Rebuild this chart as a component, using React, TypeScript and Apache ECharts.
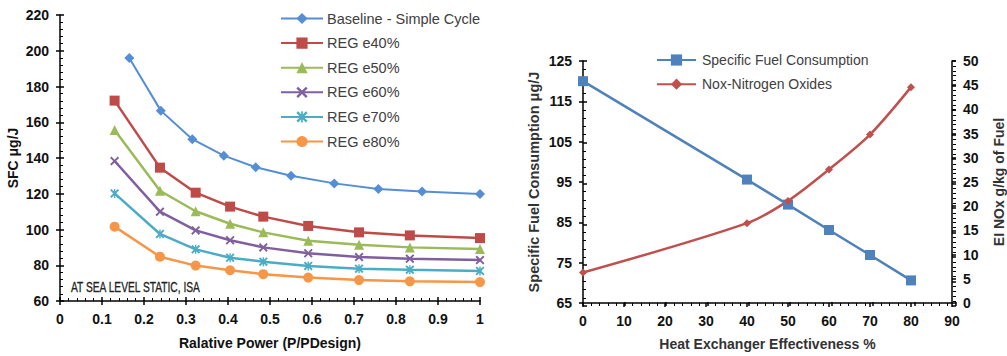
import React, { useEffect, useRef } from "react";
import * as echarts from "echarts";

// ---------- Left chart data ----------
const BASE_X = [0.165, 0.24, 0.315, 0.39, 0.466, 0.55, 0.653, 0.758, 0.862, 1.0];
const BASE_Y = [196, 166.5, 150.5, 141.3, 134.8, 130.1, 125.8, 122.7, 121.2, 119.9];
const REG_X = [0.13, 0.238, 0.323, 0.405, 0.484, 0.591, 0.712, 0.833, 1.0];
const E40 = [172.1, 134.6, 120.6, 112.8, 107.2, 102.0, 98.4, 96.7, 95.2];
const E50 = [155.7, 121.7, 110.2, 103.2, 98.4, 93.7, 91.5, 90.0, 89.1];
const E60 = [138.3, 110.0, 99.5, 94.0, 90.0, 86.7, 84.6, 83.7, 82.9];
const E70 = [120.2, 97.5, 88.9, 84.2, 82.0, 79.6, 78.1, 77.5, 76.8];
const E80 = [101.6, 84.8, 79.8, 77.2, 75.0, 73.1, 71.7, 71.0, 70.6];
const LEFT_NAMES = [
  "Baseline - Simple Cycle",
  "REG e40%",
  "REG e50%",
  "REG e60%",
  "REG e70%",
  "REG e80%",
];

// ---------- Right chart data ----------
const HX_EFF = [0, 40, 50, 60, 70, 80];
const SFC = [120.0, 95.6, 89.4, 83.1, 76.9, 70.6];
const NOX = [6.3, 16.5, 21.1, 27.6, 34.8, 44.6];
const RIGHT_NAMES = ["Specific Fuel Consumption", "Nox-Nitrogen Oxides"];

const FONT = "'Liberation Sans', Arial, sans-serif";
const X_SYM =
  "path://M0,1.5L1.5,0L5,3.5L8.5,0L10,1.5L6.5,5L10,8.5L8.5,10L5,6.5L1.5,10L0,8.5L3.5,5Z";
const AST_SYM =
  "path://M0,1.5L1.5,0L5,3.5L8.5,0L10,1.5L6.5,5L10,8.5L8.5,10L5,6.5L1.5,10L0,8.5L3.5,5Z M4.25,0L5.75,0L5.75,10L4.25,10Z";

const zip = (xs: number[], ys: number[]) => ys.map((y, i) => [xs[i], y]);

export default function App() {
  const ref = useRef<HTMLDivElement>(null);
  useEffect(() => {
    document.body.style.margin = "0";
    const chart = echarts.init(ref.current!, null, { renderer: "svg" });

    const L = { left: 60, top: 15, width: 420, height: 286 };
    const R = { left: 583, top: 61, width: 373, height: 245 };

    const lblStyle = { color: "#111", fontWeight: "bold" as const, fontSize: 14, fontFamily: FONT };
    const nameStyle = { color: "#111", fontWeight: "bold" as const, fontSize: 14, fontFamily: FONT };
    const axLine = { show: true, lineStyle: { color: "#000", width: 1.5 } };
    const outTick = { show: true, inside: false, length: 4, lineStyle: { color: "#000", width: 1.5 } };
    const inTick = { show: true, inside: true, length: 4, lineStyle: { color: "#000", width: 1.5 } };
    const minor = { show: true, splitNumber: 5, length: 3, lineStyle: { color: "#000", width: 1 } };

    const lineSeries = (
      name: string,
      data: number[][],
      color: string,
      symbol: string,
      size: number,
      xi: number,
      yi: number,
      extra: any = {}
    ) => ({
      name,
      type: "line",
      data,
      xAxisIndex: xi,
      yAxisIndex: yi,
      symbol,
      symbolSize: size,
      itemStyle: { color },
      lineStyle: { color, width: 2.5 },
      ...extra,
    });

    const option: any = {
      animation: false,
      grid: [{ ...L }, { ...L }, { ...R }, { ...R }],
      xAxis: [
        {
          gridIndex: 0,
          type: "value",
          min: 0,
          max: 1,
          interval: 0.1,
          axisLine: axLine,
          axisTick: outTick,
          splitLine: { show: false },
          axisLabel: { ...lblStyle, margin: 11 },
          name: "Ralative Power (P/PDesign)",
          nameLocation: "middle",
          nameGap: 35,
          nameTextStyle: nameStyle,
        },
        {
          gridIndex: 1,
          type: "value",
          min: 0,
          max: 1,
          interval: 0.1,
          axisLine: { show: false },
          axisTick: inTick,
          minorTick: minor,
          splitLine: { show: false },
          axisLabel: { show: false },
        },
        {
          gridIndex: 2,
          type: "value",
          min: 0,
          max: 90,
          interval: 10,
          axisLine: axLine,
          axisTick: outTick,
          splitLine: { show: false },
          axisLabel: { ...lblStyle, margin: 11 },
          name: "Heat Exchanger Effectiveness %",
          nameLocation: "middle",
          nameGap: 34,
          nameTextStyle: { ...nameStyle, color: "#333" },
        },
        {
          gridIndex: 3,
          type: "value",
          min: 0,
          max: 90,
          interval: 10,
          axisLine: { show: false },
          axisTick: inTick,
          minorTick: minor,
          splitLine: { show: false },
          axisLabel: { show: false },
        },
      ],
      yAxis: [
        {
          gridIndex: 0,
          type: "value",
          min: 60,
          max: 220,
          interval: 20,
          axisLine: axLine,
          axisTick: outTick,
          splitLine: { show: false },
          axisLabel: { ...lblStyle, margin: 11 },
          name: "SFC μg/J",
          nameLocation: "middle",
          nameGap: 40,
          nameTextStyle: nameStyle,
        },
        {
          gridIndex: 1,
          type: "value",
          min: 60,
          max: 220,
          interval: 20,
          axisLine: { show: false },
          axisTick: inTick,
          minorTick: minor,
          splitLine: { show: false },
          axisLabel: { show: false },
        },
        {
          gridIndex: 2,
          type: "value",
          position: "left",
          min: 65,
          max: 125,
          interval: 10,
          axisLine: axLine,
          axisTick: outTick,
          splitLine: { show: false },
          axisLabel: { ...lblStyle, margin: 11 },
          name: "Specific Fuel Consumption μg/J",
          nameLocation: "middle",
          nameGap: 42,
          nameTextStyle: { ...nameStyle, fontSize: 14.5, color: "#333" },
        },
        {
          gridIndex: 2,
          type: "value",
          position: "right",
          min: 0,
          max: 50,
          interval: 5,
          axisLine: axLine,
          axisTick: outTick,
          splitLine: { show: false },
          axisLabel: { ...lblStyle, margin: 11 },
          name: "EI NOx g/kg of Fuel",
          nameLocation: "middle",
          nameGap: 40,
          nameRotate: 90,
          nameTextStyle: { ...nameStyle, color: "#333" },
        },
        {
          gridIndex: 3,
          type: "value",
          position: "left",
          min: 65,
          max: 125,
          interval: 10,
          axisLine: { show: false },
          axisTick: inTick,
          minorTick: minor,
          splitLine: { show: false },
          axisLabel: { show: false },
        },
        {
          gridIndex: 3,
          type: "value",
          position: "right",
          min: 0,
          max: 50,
          interval: 5,
          axisLine: { show: false },
          axisTick: inTick,
          minorTick: minor,
          splitLine: { show: false },
          axisLabel: { show: false },
        },
      ],
      legend: [
        {
          data: LEFT_NAMES,
          orient: "vertical",
          left: 280,
          top: 11,
          padding: 0,
          itemWidth: 42,
          itemHeight: 14,
          itemGap: 9.6,
          textStyle: { color: "#404040", fontSize: 14.5, fontFamily: FONT, padding: [0, 0, 0, -1] },
        },
        {
          data: RIGHT_NAMES,
          orient: "vertical",
          left: 656,
          top: 53,
          padding: 0,
          itemWidth: 39,
          itemHeight: 14,
          itemGap: 10.2,
          textStyle: { color: "#404040", fontSize: 14, fontFamily: FONT, padding: [0, 0, 0, 1] },
        },
      ],
      graphic: [
        {
          type: "text",
          x: 71,
          y: 280,
          scaleX: 0.73,
          style: {
            text: "AT SEA LEVEL STATIC, ISA",
            fontSize: 14,
            fontFamily: FONT,
            fill: "#222",
            stroke: "#222",
            lineWidth: 0.3,
          },
        },
      ],
      series: [
        lineSeries(LEFT_NAMES[0], zip(BASE_X, BASE_Y), "#558ED5", "diamond", 10, 0, 0, {
          lineStyle: { color: "#558ED5", width: 2 },
        }),
        lineSeries(LEFT_NAMES[1], zip(REG_X, E40), "#BE4B48", "rect", 10, 0, 0),
        lineSeries(LEFT_NAMES[2], zip(REG_X, E50), "#9BBB59", "triangle", 10, 0, 0),
        lineSeries(LEFT_NAMES[3], zip(REG_X, E60), "#7F5F9F", X_SYM, 9, 0, 0),
        lineSeries(LEFT_NAMES[4], zip(REG_X, E70), "#4BACC6", AST_SYM, 9, 0, 0),
        lineSeries(LEFT_NAMES[5], zip(REG_X, E80), "#F79646", "circle", 10, 0, 0),
        lineSeries(RIGHT_NAMES[0], zip(HX_EFF, SFC), "#4F81BD", "rect", 10, 2, 2),
        lineSeries(RIGHT_NAMES[1], zip(HX_EFF, NOX), "#C0504D", "diamond", 8, 2, 3, {
          smooth: 0.3,
        }),
      ],
    };
    chart.setOption(option);
    return () => chart.dispose();
  }, []);
  return (
    <div
      ref={ref}
      style={{ position: "absolute", left: 0, top: 0, width: 1007, height: 356 }}
    />
  );
}
